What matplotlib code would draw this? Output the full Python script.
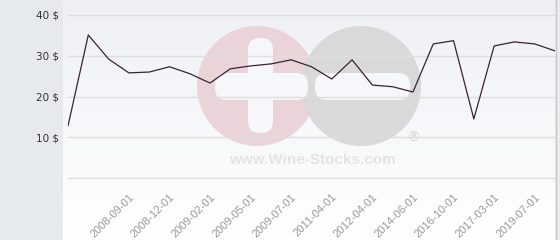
import numpy as np
import matplotlib
matplotlib.use('Agg')
import matplotlib.pyplot as plt
from matplotlib.patches import Rectangle, FancyBboxPatch, Circle
from matplotlib.transforms import Affine2D

# Daten
labels = ['', '', '', '2008-09-01', '', '2008-12-01', '', '2009-02-01', '',
          '2009-05-01', '', '2009-07-01', '', '2011-04-01', '', '2012-04-01',
          '', '2014-06-01', '', '2016-10-01', '', '2017-03-01', '', '2019-07-01', '']
preis = [12.8, 35.1, 29.2, 25.8, 26.0, 27.3, 25.6, 23.3, 26.8, 27.5, 28.0, 29.0,
         27.3, 24.3, 29.0, 22.8, 22.4, 21.1, 32.9, 33.7, 14.5, 32.4, 33.4, 32.9, 31.2]
y_ticks = [10, 20, 30, 40]

W, H = 560, 240
fig = plt.figure(figsize=(W/100, H/100), dpi=100)
fig.patch.set_facecolor('#e6eaed')

# Pixel-Koordinaten (y von oben) -> Figurkoordinaten
px = Affine2D().scale(1.0/W, -1.0/H).translate(0, 1) + fig.transFigure

# Hintergrund des Plotbereichs (Verlauf)
bg = fig.add_axes([63/W, 0, (555-63)/W, 1], zorder=0)
grad = np.linspace(0, 1, 100).reshape(-1, 1)
bg.imshow(grad, aspect='auto', cmap=matplotlib.colors.LinearSegmentedColormap.from_list(
    'g', ['#eef0f5', '#ffffff']), extent=[0, 1, 0, 1], origin='upper')
bg.axis('off')
fig.patches.append(Rectangle((555, 0), 5, 240, transform=px, facecolor='#ececec',
                             edgecolor='none', zorder=1))
fig.lines.append(plt.Line2D([555.5, 555.5], [0, 240], transform=px, color='#c8c8c8', lw=1))

# Wasserzeichen
wm = [Circle((257, 86), 60, transform=px, facecolor='#ebd3da', edgecolor='none'),
      Circle((361, 86), 60, transform=px, facecolor='#d9d9d9', edgecolor='none'),
      FancyBboxPatch((248, 38), 25, 95, boxstyle='round,pad=0,rounding_size=12', transform=px,
                     facecolor='#f6f7fa', edgecolor='none'),
      FancyBboxPatch((215, 73), 93, 27, boxstyle='round,pad=0,rounding_size=12', transform=px,
                     facecolor='#f6f7fa', edgecolor='none'),
      FancyBboxPatch((315, 73), 95, 27, boxstyle='round,pad=0,rounding_size=12', transform=px,
                     facecolor='#f6f7fa', edgecolor='none')]
for p in wm:
    p.set_zorder(2)
    fig.patches.append(p)
fig.text(312/W, 1-160/H, 'www.Wine-Stocks.com', ha='center', va='center', fontsize=11,
         fontweight='bold', family='Liberation Sans', color='#e4e4e4', zorder=2)
fig.text(413/W, 1-138/H, '®', ha='center', va='center', fontsize=10, color='#d8d8d8', zorder=2)

# Diagramm
ax = fig.add_axes([68/W, 1-178/H, (555-68)/W, 178/H], zorder=3)
ax.patch.set_alpha(0)
x = np.arange(len(preis))
ax.plot(x, preis, color='#3b2233', lw=0.9)
ax.set_xlim(0, len(preis)-1)
ax.set_ylim(0, 40 + 15/4.075)
ax.set_yticks([0] + y_ticks)
ax.set_yticklabels([''] + ['%d $' % v for v in y_ticks], fontsize=7.5, color='#333333')
ax.yaxis.grid(True, color='#dedede', lw=1)
for gl in ax.yaxis.get_gridlines():
    gl.set_clip_on(False)
ax.tick_params(axis='y', length=0, pad=6.5)
idx = [i for i, l in enumerate(labels) if l]
ax.set_xticks(idx)
ax.set_xticklabels([labels[i] for i in idx], rotation=45, ha='right', rotation_mode='anchor',
                   fontsize=8, family='Liberation Sans', color='#999999')
ax.tick_params(axis='x', length=0, pad=10)
for s in ax.spines.values():
    s.set_visible(False)

fig.savefig('out.png', dpi=100)
